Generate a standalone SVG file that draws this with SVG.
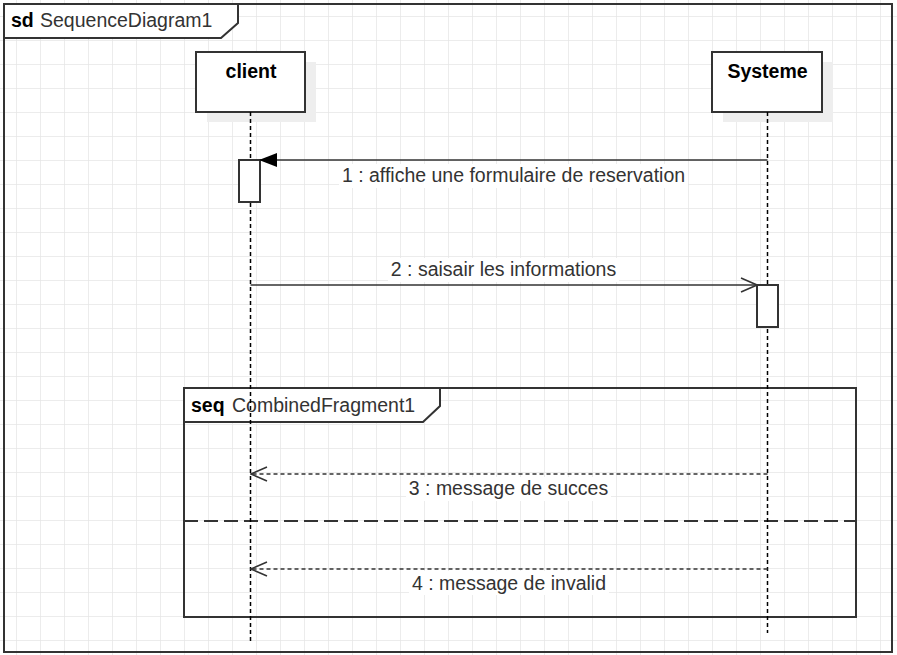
<svg xmlns="http://www.w3.org/2000/svg" width="897" height="655" viewBox="0 0 897 655">
<defs>
<pattern id="grid" x="16" y="16" width="24" height="24" patternUnits="userSpaceOnUse">
<path d="M0 0 H24 M0 0 V24" fill="none" stroke="#e6e6e6" stroke-width="1.5"/>
</pattern>
<marker id="filled" viewBox="0 0 18 14" refX="17" refY="7" markerWidth="18" markerHeight="14" markerUnits="userSpaceOnUse" orient="auto">
<path d="M0 0 L18 7 L0 14 Z" fill="#000"/>
</marker>
<marker id="open" viewBox="0 0 18 16" refX="17" refY="8" markerWidth="18" markerHeight="16" markerUnits="userSpaceOnUse" orient="auto">
<path d="M1 1 L17 8 L1 15" fill="none" stroke="#333" stroke-width="1.5"/>
</marker>
</defs>
<style>
.t{font-family:"Liberation Sans",Arial,sans-serif;font-size:19.5px;fill:#333}
.b{font-weight:bold;fill:#000}
.box{fill:#fff;stroke:#333;stroke-width:2}
.shadow{fill:#eeeeee}
.life{stroke:#000;stroke-width:1.5;stroke-dasharray:4 3;fill:none}
.msg{stroke:#333;stroke-width:1.5;fill:none}
.ret{stroke:#333;stroke-width:1.5;fill:none;stroke-dasharray:4 3}
.bg{fill:#fff}
.frame{fill:none;stroke:#333;stroke-width:2}
</style>
<rect x="0" y="0" width="897" height="655" fill="#fff"/>
<rect x="0" y="0" width="897" height="655" fill="url(#grid)"/>

<g id="frame">
<rect class="frame" x="4" y="4" width="888" height="648"/>
<path d="M4 4 H238 V23 L221 38 H4 Z" fill="#fff" stroke="#333" stroke-width="2"/>
<text class="t" x="11" y="27"><tspan class="b">sd</tspan><tspan x="40">SequenceDiagram1</tspan></text>
</g>

<g id="fragment">
<rect x="184" y="388" width="672" height="229" fill="none" stroke="#333" stroke-width="2"/>
<path d="M184 388 H440 V406 L423 422 H184 Z" fill="#fff" stroke="#333" stroke-width="2"/>
<text class="t" x="191" y="412"><tspan class="b">seq</tspan><tspan x="232">CombinedFragment1</tspan></text>
<line x1="184" y1="521" x2="856" y2="521" stroke="#333" stroke-width="2" stroke-dasharray="14 6"/>
</g>

<g id="client">
<rect class="shadow" x="207" y="62" width="109" height="60"/>
<rect class="box" x="196" y="52" width="109" height="60"/>
<text class="t b" x="251" y="77.5" text-anchor="middle">client</text>
<line class="life" x1="250.5" y1="112" x2="250.5" y2="641"/>
<rect class="box" x="239" y="160" width="21" height="42" stroke-width="1.5"/>
</g>

<g id="systeme">
<rect class="shadow" x="723" y="62" width="110" height="60"/>
<rect class="box" x="712" y="52" width="110" height="60"/>
<text class="t b" x="767.5" y="77.5" text-anchor="middle">Systeme</text>
<line class="life" x1="767.5" y1="112" x2="767.5" y2="633"/>
<rect class="box" x="757" y="285" width="21" height="42" stroke-width="1.5"/>
</g>

<g id="connectors">
<line class="msg" x1="767.5" y1="160" x2="260" y2="160" marker-end="url(#filled)"/>
<rect class="bg" x="339" y="164" width="349" height="24"/>
<text class="t" x="513.5" y="182" text-anchor="middle">1 : affiche une formulaire de reservation</text>

<line class="msg" x1="250.5" y1="285" x2="757" y2="285" marker-end="url(#open)"/>
<rect class="bg" x="388" y="258" width="231" height="24"/>
<text class="t" x="503.5" y="276" text-anchor="middle">2 : saisair les informations</text>

<line class="ret" x1="767.5" y1="474" x2="251" y2="474" marker-end="url(#open)"/>
<rect class="bg" x="406" y="477" width="205" height="24"/>
<text class="t" x="508.5" y="495" text-anchor="middle">3 : message de succes</text>

<line class="ret" x1="767.5" y1="569" x2="251" y2="569" marker-end="url(#open)"/>
<rect class="bg" x="409" y="571" width="200" height="24"/>
<text class="t" x="509" y="589.5" text-anchor="middle">4 : message de invalid</text>
</g>
</svg>
